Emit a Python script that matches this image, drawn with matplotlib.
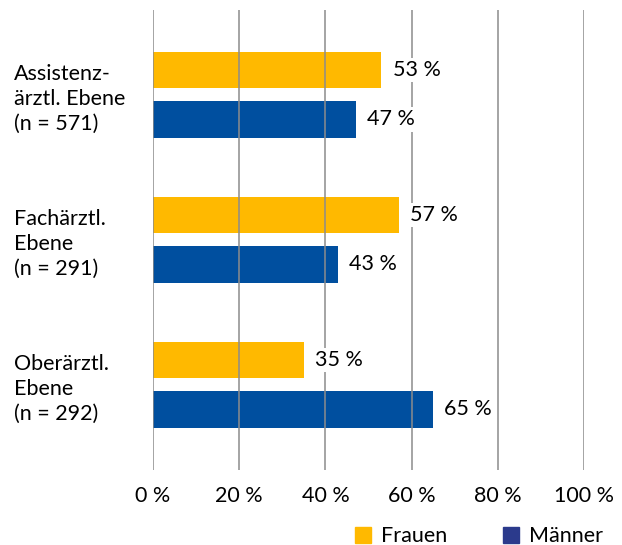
import matplotlib.pyplot as plt
from matplotlib.patches import Patch
import matplotlib.transforms as mtransforms

plt.rcParams['font.family'] = ['Lato', 'DejaVu Sans']

# Daten
kategorien = ['Assistenz-\närztl. Ebene\n(n = 571)',
              'Fachärztl.\nEbene\n(n = 291)',
              'Oberärztl.\nEbene\n(n = 292)']
frauen = [53, 57, 35]
maenner = [47, 43, 65]
xticks = [0, 20, 40, 60, 80, 100]
xtick_labels = ['0 %', '20 %', '40 %', '60 %', '80 %', '100 %']

gelb = '#FFB900'
blau = '#004F9F'
blau_legende = '#2B3A8C'
gitter = '#8C8C8C'
fs = 15.5

fig = plt.figure(figsize=(6.22, 5.45), dpi=100)
ax = fig.add_axes([0.246, 0.138, 0.693, 0.844])

pos = range(len(kategorien))
off = 0.17
h = 0.25
bars_f = ax.barh([p - off for p in pos], frauen, height=h, color=gelb, zorder=1)
bars_m = ax.barh([p + off for p in pos], maenner, height=h, color=blau, zorder=1)

ax.set_xlim(0, 100)
ax.set_ylim(2.586, -0.586)

# Gitterlinien über den Balken
for x in xticks:
    ax.axvline(x, color=gitter, lw=1.1, zorder=2)

# Werte-Beschriftung
for bars, vals in ((bars_f, frauen), (bars_m, maenner)):
    for b, v in zip(bars, vals):
        ax.annotate(f'{v} %', (b.get_width(), b.get_y() + b.get_height() / 2),
                    xytext=(8, 0), textcoords='offset points',
                    ha='left', va='center', fontsize=fs, color='black', zorder=3,
                    bbox=dict(boxstyle='square,pad=0.1', fc='white', ec='none'))

# Kategorien links (leicht unter der Gruppenmitte)
trans = mtransforms.blended_transform_factory(fig.transFigure, ax.transData)
for p, k in zip(pos, kategorien):
    ax.text(14 / 622, p + 0.03, k, transform=trans, ha='left', va='center',
            fontsize=fs, linespacing=1.3)

ax.set_yticks([])
ax.set_xticks(xticks)
ax.set_xticklabels(xtick_labels, fontsize=fs)
ax.tick_params(axis='x', length=0, pad=12)
for s in ax.spines.values():
    s.set_visible(False)

handles = [Patch(color=gelb, label='Frauen'), Patch(color=blau_legende, label='Männer')]
fig.legend(handles=handles, loc='lower right', bbox_to_anchor=(1.0, -0.038), ncol=2,
           frameon=False, fontsize=fs, handlelength=0.75, handleheight=0.75,
           handletextpad=0.45, columnspacing=2.6)

fig.savefig('out.png', dpi=100)
